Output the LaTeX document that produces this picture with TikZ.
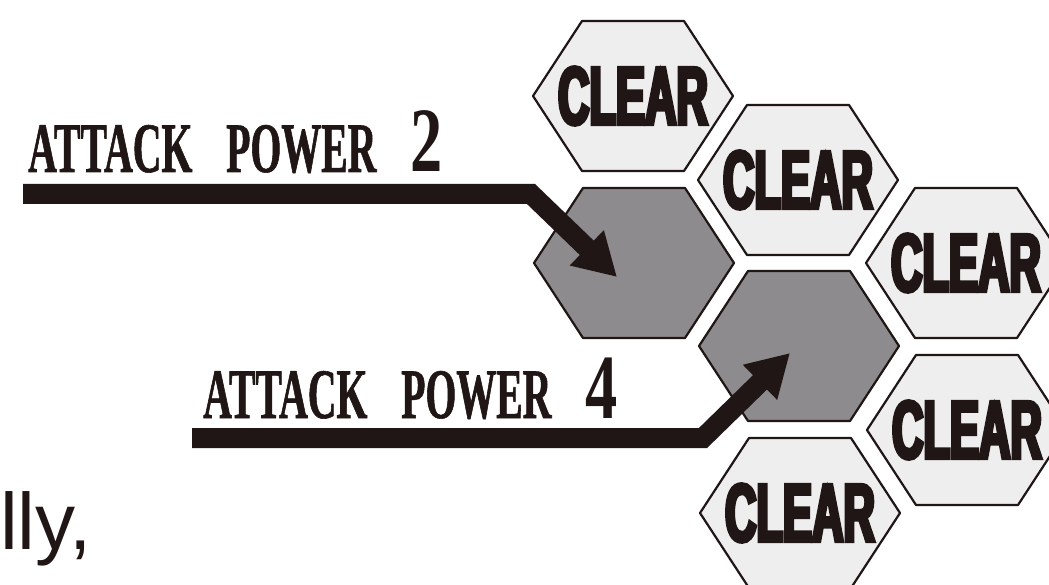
\documentclass[tikz,border=0pt]{standalone}
\usepackage{fontspec}
\setmainfont{Liberation Serif}
\newfontfamily\clearfont[FakeStretch=0.53,FakeBold=4.5]{Liberation Sans Bold}
\newfontfamily\labfont[FakeStretch=0.56,WordSpace=3.4,FakeBold=0.8]{Liberation Serif}
\newfontfamily\numfont[FakeStretch=0.7]{Liberation Serif}
\newfontfamily\bodyfont{Liberation Sans}
\usetikzlibrary{arrows.meta}

\definecolor{ink}{HTML}{1F1615}
\definecolor{hexlight}{HTML}{EFEEEF}
\definecolor{hexdark}{HTML}{8D8B8D}

\tikzset{
  hexa/.pic={\path[pic actions] (-100,0) -- (-51,-75) -- (51,-75) -- (100,0)
             -- (51,75) -- (-51,75) -- cycle;},
  clearhex/.style={draw=ink, line width=2.2pt, fill=hexlight, line join=round},
  darkhex/.style={draw=ink, line width=2.2pt, fill=hexdark, line join=round},
  cleartxt/.style={inner sep=0pt, text=ink, font=\clearfont\fontsize{82}{82}\selectfont},
  labtxt/.style={inner sep=0pt, anchor=base west, text=ink,
                 font=\labfont\bfseries\fontsize{71}{71}\selectfont},
  pointer/.style={draw=ink, line width=20pt,
                  -{Triangle[length=42pt,width=46pt]}},
}
\newcommand{\bignum}[1]{{\numfont\bfseries\fontsize{92}{92}\selectfont #1}}

\begin{document}
\begin{tikzpicture}[x=1pt, y=-1pt]
  \useasboundingbox (0,0) rectangle (1049,585);
  \clip (0,0) rectangle (1049,585);
  \fill[white] (0,0) rectangle (1049,585);

  % hex centres
  \coordinate (c1) at (633,96);
  \coordinate (d1) at (634,263);
  \coordinate (c2) at (798,180);
  \coordinate (d2) at (799,346);
  \coordinate (c3) at (966,263);
  \coordinate (c4) at (967,430);
  \coordinate (c5) at (800,513);

  % hex tiles
  \pic[clearhex] at (c1) {hexa};
  \pic[darkhex]  at (d1) {hexa};
  \pic[clearhex] at (c2) {hexa};
  \pic[darkhex]  at (d2) {hexa};
  \pic[clearhex] at (c3) {hexa};
  \pic[clearhex] at (c4) {hexa};
  \pic[clearhex] at (c5) {hexa};

  \node[cleartxt] (t1) at (c1) {CLEAR};
  \node[cleartxt] (t2) at (c2) {CLEAR};
  \node[cleartxt] (t3) at (c3) {CLEAR};
  \node[cleartxt] (t4) at (c4) {CLEAR};
  \node[cleartxt] (t5) at (c5) {CLEAR};

  % labels
  \node[labtxt] (lab2) at (28,172) {ATTACK POWER \bignum{2}};
  \node[labtxt] (lab4) at (203,418) {ATTACK POWER \bignum{4}};

  % pointers into the shaded tiles
  \coordinate (p1s) at (23,194);
  \coordinate (p1b) at (531,194);
  \coordinate (p1t) at (617,277);
  \coordinate (p2s) at (192,438);
  \coordinate (p2b) at (703,438);
  \coordinate (p2t) at (790,353);
  \draw[pointer] (p1s) -- (p1b) -- (p1t);
  \draw[pointer] (p2s) -- (p2b) -- (p2t);

  % running text fragment
  \node[inner sep=0pt, anchor=base west, text=ink,
        font=\bodyfont\fontsize{80}{80}\selectfont] (frag) at (0,549) {lly,};
\end{tikzpicture}
\end{document}
